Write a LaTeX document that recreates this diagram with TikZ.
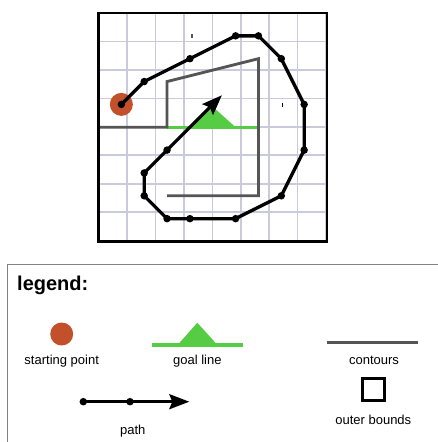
\documentclass[tikz,border=0pt]{standalone}
\usepackage{fontspec}
\setmainfont{Liberation Sans}
\usetikzlibrary{arrows.meta}
\definecolor{startred}{HTML}{C1502B}
\definecolor{goalgreen}{HTML}{55CC44}
\definecolor{gridcol}{HTML}{CBCADC}
\definecolor{contcol}{HTML}{555555}
\tikzset{
  pathline/.style={line width=3.3pt, black, line join=miter},
  pathdot/.style={circle, fill=black, inner sep=0pt, minimum size=7.5pt},
  contour/.style={line width=2.8pt, contcol},
  goal/.style={fill=goalgreen, draw=none},
  goalline/.style={line width=3.2pt, goalgreen},
  bounds/.style={line width=2.6pt, black},
  lbl/.style={font=\fontsize{13}{15}\selectfont, inner sep=0pt},
  arrowtip/.style={-{Stealth[length=20pt,width=15pt,inset=3pt]}}
}
\begin{document}
\begin{tikzpicture}[x=1pt,y=-1pt]
\useasboundingbox (0,0) rectangle (438,442);
\fill[white] (0,0) rectangle (438,442);
\begin{scope}[shift={(98.5,13)}, x=22.85pt, y=-22.85pt]
  % grid
  \draw[gridcol, line width=1.6pt] (0,0) grid (10,10);
  % goal line and triangle
  \draw[goalline] (3,5) -- (7,5);
  \fill[goal] (4,5) -- (5,4.1) -- (6,5) -- cycle;
  % contours
  \draw[contour] (0,5) -- (3,5) -- (3,3) -- (7,2) -- (7,8) -- (3,8);
  % stray marks
  \draw[contcol, line width=1.5pt] (4.1,0.93) -- (4.1,1.1);
  \draw[black, line width=1.2pt] (8.05,3.93) -- (8.05,4.12);
  % start
  \node[circle, fill=startred, minimum size=23pt, inner sep=0pt] (start) at (1,4) {};
  % path points
  \foreach \n/\p in {p1/{1,4},p2/{2,3},p3/{4,2},p4/{6,1},p5/{7,1},p6/{8,2},p7/{9,4},p8/{9,6},p9/{8,8},p10/{6,9},p11/{4,9},p12/{3,9},p13/{2,8},p14/{2,7},p15/{3,6}}
    \coordinate (\n) at (\p);
  \coordinate (pend) at (5.4,3.6);
  \draw[pathline] (p1) -- (p2) -- (p3) -- (p4) -- (p5) -- (p6) -- (p7) -- (p8) -- (p9) -- (p10) -- (p11) -- (p12) -- (p13) -- (p14) -- (p15);
  \draw[pathline, arrowtip] (p15) -- (pend);
  \foreach \n in {p1,p2,p3,p4,p5,p6,p7,p8,p9,p10,p11,p12,p13,p14,p15}
    \node[pathdot] at (\n) {};
  % outer bounds
  \draw[bounds] (0,0) rectangle (10,10);
\end{scope}
% legend box
\draw[gray, line width=1pt] (7.3,450) -- (7.3,264) -- (450,264);
\node[anchor=base west, inner sep=0pt, font=\fontsize{20}{24}\selectfont\bfseries] (legtitle) at (17,290) {legend:};
% starting point
\node[circle, fill=startred, minimum size=23pt, inner sep=0pt] (lstart) at (61.7,334) {};
\node[lbl, anchor=base] (lstarttxt) at (61.7,364.5) {starting point};
% goal line
\draw[goalline] (151.7,345) -- (242.7,345);
\fill[goal] (176.7,346) -- (197.3,322.7) -- (218.3,346) -- cycle;
\node[lbl, anchor=base] (lgoaltxt) at (197.3,364.5) {goal line};
% contours
\draw[contour] (327.3,342.3) -- (418.3,342.3);
\node[lbl, anchor=base] (lconttxt) at (374,364.5) {contours};
% outer bounds
\node[draw=black, line width=2.6pt, minimum size=22pt, inner sep=0pt] (lbox) at (373.7,389.7) {};
\node[lbl, anchor=base] (lboxtxt) at (373.3,424.5) {outer bounds};
% path
\coordinate (la) at (83.3,401.7);
\coordinate (lb) at (130,401.7);
\coordinate (lc) at (189.3,401.7);
\draw[pathline, line width=2.6pt, arrowtip] (la) -- (lc);
\node[pathdot] at (la) {};
\node[pathdot] at (lb) {};
\node[lbl, anchor=base] (lpathtxt) at (132.7,434) {path};
\end{tikzpicture}
\end{document}
